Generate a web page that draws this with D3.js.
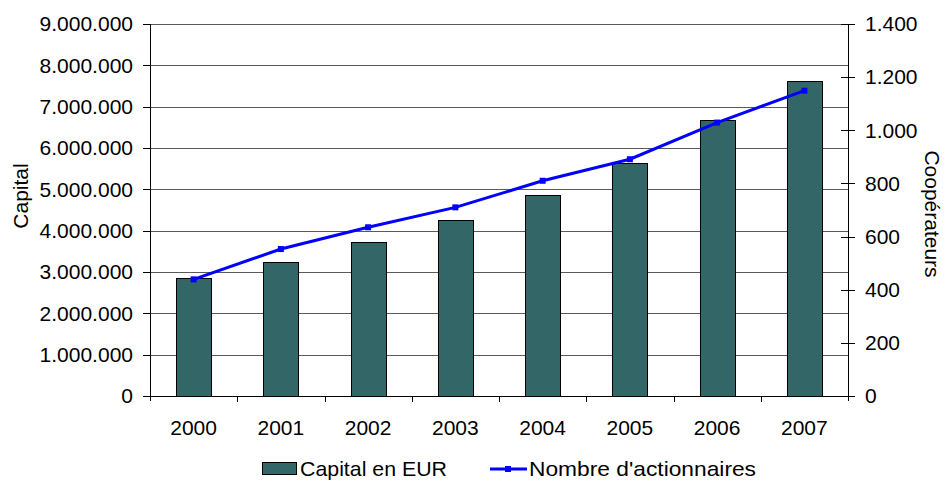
<!DOCTYPE html>
<html><head><meta charset="utf-8">
<script src="https://cdn.jsdelivr.net/npm/d3@7"></script>
<style>body{margin:0;background:#fff}svg{display:block;font-family:"Liberation Sans",Arial,sans-serif}</style>
</head><body>
<svg id="c" width="946" height="482"></svg>
<script>
const years = ["2000","2001","2002","2003","2004","2005","2006","2007"];
const capital = [2850000,3240000,3730000,4270000,4860000,5645000,6685000,7630000];
const actionnaires = [439,553,635,710,810,891,1029,1149];
const leftTicks = [0,1000000,2000000,3000000,4000000,5000000,6000000,7000000,8000000,9000000];
const rightTicks = [0,200,400,600,800,1000,1200,1400];
const barLabel = "Capital en EUR", lineLabel = "Nombre d'actionnaires";
const leftTitle = "Capital", rightTitle = "Coopérateurs";

const svg = d3.select("#c");
const L=150, R=848, T=24, B=396;
const fmt = v => d3.format(",")(v).replace(/,/g,".");
const x = d3.scaleBand().domain(years).range([L,R]).padding(0);
const yL = d3.scaleLinear().domain([0,9000000]).range([B,T]);
const yR = d3.scaleLinear().domain([0,1400]).range([B,T]);
const fs = 21;

// gridlines
svg.append("g").selectAll("line").data(leftTicks.slice(1)).join("line")
  .attr("x1",L).attr("x2",R).attr("y1",d=>Math.round(yL(d))+0.5).attr("y2",d=>Math.round(yL(d))+0.5)
  .attr("stroke","#5a5a5a").attr("stroke-width",1);

// bars
const bw = 35;
svg.append("g").selectAll("rect").data(years).join("rect")
  .attr("x",(d)=>Math.round(x(d)+x.bandwidth()/2-bw/2)+0.5)
  .attr("y",(d,i)=>Math.round(yL(capital[i]))+0.5)
  .attr("width",bw).attr("height",(d,i)=>B-Math.round(yL(capital[i])))
  .attr("fill","#336666").attr("stroke","#000").attr("stroke-width",1);

// axes
const ax = svg.append("g").attr("stroke","#000").attr("stroke-width",1).attr("fill","none");
ax.append("line").attr("x1",L+0.5).attr("x2",L+0.5).attr("y1",T).attr("y2",B+5);
ax.append("line").attr("x1",R+0.5).attr("x2",R+0.5).attr("y1",T).attr("y2",B+5);
ax.append("line").attr("x1",L).attr("x2",R).attr("y1",B+0.5).attr("y2",B+0.5);
ax.selectAll(".lt").data(leftTicks).join("line").attr("class","lt")
  .attr("x1",L-7).attr("x2",L).attr("y1",d=>Math.round(yL(d))+0.5).attr("y2",d=>Math.round(yL(d))+0.5);
ax.selectAll(".rt").data(rightTicks).join("line").attr("class","rt")
  .attr("x1",R-7).attr("x2",R+7).attr("y1",d=>Math.round(yR(d))+0.5).attr("y2",d=>Math.round(yR(d))+0.5);
ax.selectAll(".xt").data(years.slice(1)).join("line").attr("class","xt")
  .attr("x1",d=>Math.round(x(d))+0.5).attr("x2",d=>Math.round(x(d))+0.5).attr("y1",B).attr("y2",B+6);

// tick labels
svg.append("g").selectAll("text").data(leftTicks).join("text")
  .attr("x",L-17).attr("y",d=>yL(d)).attr("dy","0.35em").attr("text-anchor","end")
  .attr("font-size",fs).text(d=>fmt(d));
svg.append("g").selectAll("text").data(rightTicks).join("text")
  .attr("x",R+17).attr("y",d=>yR(d)).attr("dy","0.35em").attr("text-anchor","start")
  .attr("font-size",fs).text(d=>fmt(d));
svg.append("g").selectAll("text").data(years).join("text")
  .attr("x",d=>x(d)+x.bandwidth()/2).attr("y",B+39).attr("text-anchor","middle")
  .attr("font-size",fs).text(d=>d);

// titles
svg.append("text").attr("transform",`translate(28,${(T+B)/2-14}) rotate(-90)`)
  .attr("text-anchor","middle").attr("font-size",fs).text(leftTitle);
svg.append("text").attr("transform",`translate(925,${(T+B)/2+4}) rotate(90)`)
  .attr("text-anchor","middle").attr("font-size",fs).text(rightTitle);

// line
const cx = (d)=>x(d)+x.bandwidth()/2;
svg.append("path").datum(years)
  .attr("d",d3.line().x(d=>cx(d)).y((d,i)=>yR(actionnaires[i])))
  .attr("fill","none").attr("stroke","#0000ff").attr("stroke-width",3);
svg.append("g").selectAll("rect").data(years).join("rect")
  .attr("x",d=>cx(d)-3).attr("y",(d,i)=>yR(actionnaires[i])-3)
  .attr("width",6).attr("height",6).attr("fill","#0000ff");

// legend
const lg = svg.append("g");
lg.append("rect").attr("x",262.5).attr("y",462.5).attr("width",34).attr("height",12)
  .attr("fill","#336666").attr("stroke","#000");
lg.append("text").attr("x",300).attr("y",476).attr("font-size",fs)
  .attr("textLength",147).attr("lengthAdjust","spacingAndGlyphs").text(barLabel);
lg.append("line").attr("x1",490).attr("x2",527).attr("y1",469).attr("y2",469).attr("stroke","#0000ff").attr("stroke-width",3);
lg.append("rect").attr("x",505).attr("y",466).attr("width",6).attr("height",6).attr("fill","#0000ff");
lg.append("text").attr("x",529).attr("y",476).attr("font-size",fs)
  .attr("textLength",227).attr("lengthAdjust","spacingAndGlyphs").text(lineLabel);
</script>
</body></html>
